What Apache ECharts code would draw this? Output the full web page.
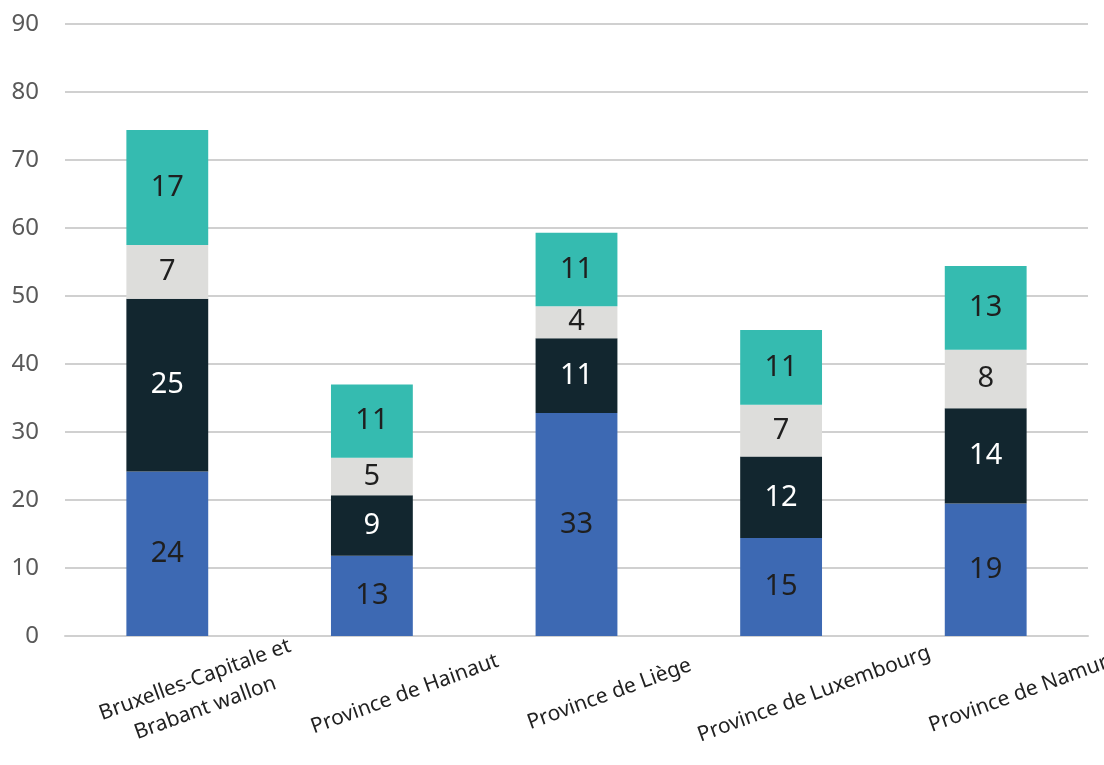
<!DOCTYPE html>
<html>
<head>
<meta charset="utf-8">
<script src="https://cdn.jsdelivr.net/npm/echarts@6/dist/echarts.min.js"></script>
<style>html,body{margin:0;padding:0;background:#fff}#c{width:1104px;height:765px}</style>
</head>
<body>
<div id="c"></div>
<script>
const categories = ['Bruxelles-Capitale et\nBrabant wallon', 'Province de Hainaut', 'Province de Liège', 'Province de Luxembourg', 'Province de Namur'];
const yTicks = [0, 10, 20, 30, 40, 50, 60, 70, 80, 90];
// segment heights
const blueValues = [24.2, 11.8, 32.8, 14.4, 19.5];
const darkValues = [25.4, 8.9, 11.0, 12.0, 14.0];
const grayValues = [7.9, 5.5, 4.7, 7.6, 8.6];
const tealValues = [16.9, 10.8, 10.8, 11.0, 12.3];
// data labels as printed
const blueLabels = [24, 13, 33, 15, 19];
const darkLabels = [25, 9, 11, 12, 14];
const grayLabels = [7, 5, 4, 7, 8];
const tealLabels = [17, 11, 11, 11, 13];

const FONT = 'Noto Sans';
function mk(name, values, labels, color, textColor) {
  return {
    name: name, type: 'bar', stack: 'total', data: values, barWidth: '40%',
    itemStyle: { color: color },
    label: {
      show: true, position: 'inside', fontFamily: FONT, fontSize: 29, color: textColor,
      formatter: p => String(labels[p.dataIndex])
    },
    emphasis: { disabled: true }
  };
}
const chart = echarts.init(document.getElementById('c'), null, { renderer: 'canvas' });
chart.setOption({
  animation: false,
  grid: { left: 65, right: 16, top: 24, bottom: 129, containLabel: false, outerBoundsMode: 'none' },
  xAxis: {
    type: 'category', data: categories,
    axisLine: { show: true, lineStyle: { color: '#d0d0d0', width: 2 } },
    axisTick: { show: false },
    axisLabel: {
      interval: 0, rotate: 20, align: 'center', verticalAlign: 'middle', margin: 70,
      padding: [0, 0, 0, 70],
      fontFamily: FONT, fontSize: 21, color: '#222', lineHeight: 30
    }
  },
  yAxis: {
    type: 'value', min: yTicks[0], max: yTicks[yTicks.length - 1], interval: 10,
    axisLine: { show: false }, axisTick: { show: false },
    splitLine: { lineStyle: { color: '#d0d0d0', width: 2 } },
    axisLabel: { fontFamily: FONT, fontSize: 24, color: '#595959', margin: 26 }
  },
  series: [
    mk('s1', blueValues, blueLabels, '#3d69b3', '#1f1f1f'),
    mk('s2', darkValues, darkLabels, '#12262f', '#ffffff'),
    mk('s3', grayValues, grayLabels, '#dddddb', '#1f1f1f'),
    mk('s4', tealValues, tealLabels, '#35bbb0', '#1f1f1f')
  ]
});
</script>
</body>
</html>
